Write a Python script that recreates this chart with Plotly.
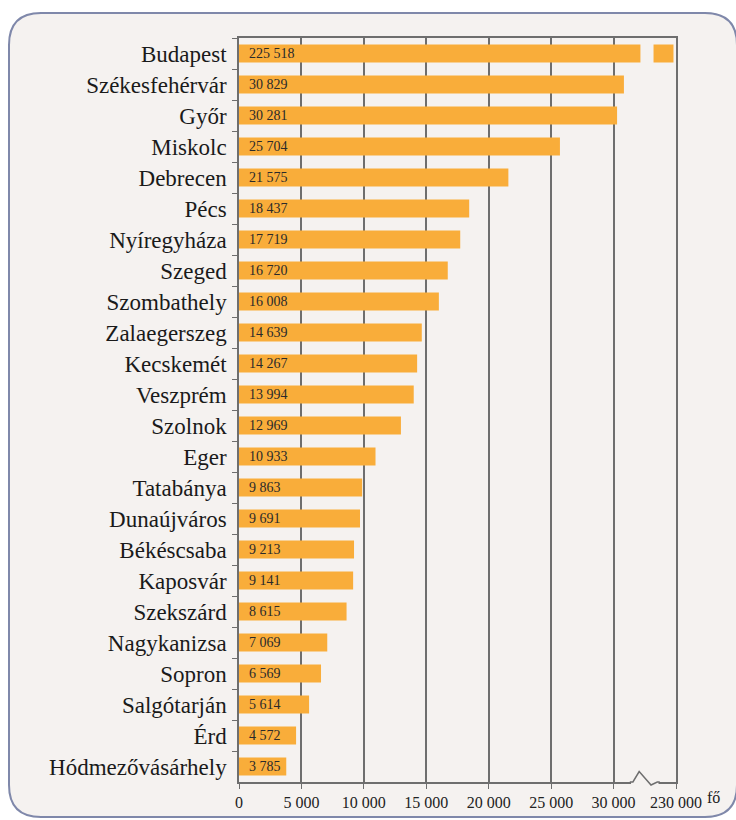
import plotly.graph_objects as go

# Adatok: városok és létszám (fő)
cities = ["Budapest", "Székesfehérvár", "Győr", "Miskolc", "Debrecen", "Pécs",
          "Nyíregyháza", "Szeged", "Szombathely", "Zalaegerszeg", "Kecskemét",
          "Veszprém", "Szolnok", "Eger", "Tatabánya", "Dunaújváros", "Békéscsaba",
          "Kaposvár", "Szekszárd", "Nagykanizsa", "Sopron", "Salgótarján", "Érd",
          "Hódmezővásárhely"]
values = [225518, 30829, 30281, 25704, 21575, 18437, 17719, 16720, 16008, 14639,
          14267, 13994, 12969, 10933, 9863, 9691, 9213, 9141, 8615, 7069, 6569,
          5614, 4572, 3785]

tick_values = [0, 5000, 10000, 15000, 20000, 25000, 30000, 230000]
tick_labels = ["0", "5 000", "10 000", "15 000", "20 000", "25 000", "30 000", "230 000"]

# Megszakított tengely: a felső szakasz összenyomva
BREAK_LOW = 32000
AXIS_END = 35000
UPPER_SCALE = 0.045
GAP = (32150, 33200)


def to_axis(v):
    if v <= BREAK_LOW:
        return v
    return AXIS_END - (max(tick_values) - v) * UPPER_SCALE


BG = "#F5F2F0"
BAR = "#F9AD3A"
GRID = "#6E6E6E"
SERIF = '"Liberation Serif", "Tinos", "Times New Roman", "DejaVu Serif", serif'

x_plot = [to_axis(v) for v in values]
labels = [f"{v:,}".replace(",", " ") for v in values]

fig = go.Figure(go.Bar(
    y=cities,
    x=x_plot,
    orientation="h",
    width=0.58,
    marker=dict(color=BAR, line=dict(width=0)),
    text=labels,
    texttemplate="\u2002%{text}",
    textposition="inside",
    insidetextanchor="start",
    constraintext="none",
    textfont=dict(family=SERIF, size=14, color="#2a2a2a"),
    hoverinfo="skip",
))

# Plot-terület pixelben a papír-koordináták átszámításához
L, R, T, B = 239, 676, 38, 782
W, H = R - L, B - T


def px(x):
    return (x - L) / W


def py(y):
    return (B - y) / H


# Lekerekített keret
x0, y0, x1, y1, rad = 9, 13, 737, 817, 32
frame = (f"M {px(x0 + rad)},{py(y0)} L {px(x1 - rad)},{py(y0)} "
         f"Q {px(x1)},{py(y0)} {px(x1)},{py(y0 + rad)} "
         f"L {px(x1)},{py(y1 - rad)} Q {px(x1)},{py(y1)} {px(x1 - rad)},{py(y1)} "
         f"L {px(x0 + rad)},{py(y1)} Q {px(x0)},{py(y1)} {px(x0)},{py(y1 - rad)} "
         f"L {px(x0)},{py(y0 + rad)} Q {px(x0)},{py(y0)} {px(x0 + rad)},{py(y0)} Z")

shapes = [
    dict(type="path", xref="paper", yref="paper", path=frame,
         fillcolor=BG, line=dict(color="#7F88AA", width=2), layer="below"),
    # rés a Budapest oszlopban
    dict(type="rect", xref="x", yref="y", x0=GAP[0], x1=GAP[1], y0=-0.45, y1=0.45,
         fillcolor=BG, line=dict(width=0), layer="above"),
    # tengelyvonal kitakarása a törésnél
    dict(type="rect", xref="x", yref="paper", x0=31400, x1=33600, y0=-0.004, y1=0.004,
         fillcolor=BG, line=dict(width=0), layer="above"),
    # cikcakk
    dict(type="path", xref="x", yref="paper",
         path="M 31300,0 L 31550,0 L 32050,0.014 L 33000,-0.004 L 33500,0 L 33700,0",
         line=dict(color=GRID, width=1.5), layer="above"),
]

fig.update_layout(
    width=736, height=820,
    margin=dict(l=L, r=736 - R, t=T, b=820 - B),
    paper_bgcolor="white",
    plot_bgcolor="rgba(0,0,0,0)",
    showlegend=False,
    bargap=0.4,
    shapes=shapes,
    annotations=[dict(text="fő", xref="paper", yref="paper", x=1, y=0,
                      xanchor="left", yanchor="middle", xshift=29, yshift=-15,
                      showarrow=False, font=dict(family=SERIF, size=16, color="#222"))],
)

fig.update_xaxes(
    range=[0, AXIS_END],
    tickvals=[to_axis(v) if v <= BREAK_LOW else AXIS_END for v in tick_values],
    ticktext=tick_labels,
    showgrid=True, gridcolor=GRID, gridwidth=1.5,
    showline=True, linecolor=GRID, linewidth=1.5, mirror=True,
    ticks="outside", ticklen=5, tickcolor=GRID,
    tickfont=dict(family=SERIF, size=16, color="#222"),
    zeroline=False, fixedrange=True, automargin=False,
)

fig.update_yaxes(
    autorange="reversed",
    tickson="boundaries",
    ticks="outside", ticklen=5, tickcolor=GRID,
    ticklabelstandoff=6,
    showgrid=False,
    showline=True, linecolor=GRID, linewidth=1.5, mirror=True,
    tickfont=dict(family=SERIF, size=23, color="#1a1a1a"),
    fixedrange=True, automargin=False,
)

fig.write_html("out.html", config={"displayModeBar": False},
               post_script="document.body.style.margin = '0';")
